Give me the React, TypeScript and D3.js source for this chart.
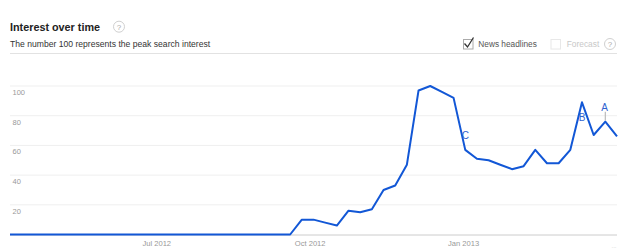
import React from "react";
import * as d3 from "d3";

const startDate = new Date(2012, 3, 4);
const values: number[] = [
  0, 0, 0, 0, 0, 0, 0, 0, 0, 0, 0, 0, 0, 0, 0, 0, 0, 0, 0, 0, 0, 0, 0, 0, 0,
  10, 10, 8, 6, 16, 15, 17, 30, 33, 47, 97, 100, 96, 92, 57, 51, 50, 47, 44, 46,
  57, 48, 48, 57, 89, 67, 76, 66,
];
const yTicks = [20, 40, 60, 80, 100];
const xTickDates = [new Date(2012, 6, 1), new Date(2012, 9, 1), new Date(2013, 0, 1)];
const xTickLabels = ["Jul 2012", "Oct 2012", "Jan 2013"];
const annotLetters = ["C", "B", "A"];
const annotWeeks = [39, 49, 51];

const FONT = "'Liberation Sans', Arial, sans-serif";

function HelpIcon({ x, y }: { x: number; y: number }) {
  return (
    <g>
      <circle cx={x} cy={y} r={5.5} fill="#fff" stroke="#d0d0d0" strokeWidth={1} />
      <text x={x} y={y + 3} textAnchor="middle" fontSize={8} fill="#aaa" fontFamily={FONT}>?</text>
    </g>
  );
}

export default function App() {
  const W = 625, H = 252;
  const dates = values.map((_, i) => d3.timeDay.offset(startDate, i * 7));
  const x = d3.scaleTime().domain([dates[0], dates[dates.length - 1]]).range([10, 617]);
  const y = d3.scaleLinear().domain([0, 100]).range([234.5, 86]);
  const line = d3.line<number>().x((_, i) => x(dates[i])).y((d) => y(d));
  const pt = (w: number) => [x(dates[w]), y(values[w])];
  const c = pt(annotWeeks[0]);
  const b = pt(annotWeeks[1]);
  const a = pt(annotWeeks[2]);

  return (
    <svg width={W} height={H} style={{ position: "absolute", left: 0, top: 0, background: "#fff" }} fontFamily={FONT}>
      <text x={10} y={30.5} fontSize={10.8} fontWeight="bold" fill="#222">Interest over time</text>
      <HelpIcon x={119} y={26.7} />
      <text x={10} y={47.3} fontSize={8.6} fill="#333">The number 100 represents the peak search interest</text>

      <rect x={463.5} y={39.5} width={9.5} height={9.5} fill="#fff" stroke="#aaa" strokeWidth={1} />
      <path d="M464.5,43.5 L467.5,47 L473.5,37.5" fill="none" stroke="#333" strokeWidth={1.3} />
      <text x={478.3} y={47.2} fontSize={8.3} fill="#555">News headlines</text>
      <rect x={551} y={39.5} width={9.5} height={9.5} fill="#fff" stroke="#e8e8e8" strokeWidth={1} />
      <text x={566.7} y={47.2} fontSize={8.4} fill="#c8c8c8">Forecast</text>
      <HelpIcon x={610} y={44} />
      <line x1={10} x2={617} y1={53.5} y2={53.5} stroke="#e2e2e2" strokeWidth={1} />

      {yTicks.map((t) => (
        <g key={t}>
          <line x1={10} x2={617} y1={y(t)} y2={y(t)} stroke="#efefef" strokeWidth={1} />
          <text x={12.5} y={y(t) + 9} fontSize={7.5} fill="#999">{t}</text>
        </g>
      ))}
      <line x1={10} x2={617} y1={y(0) + 0.5} y2={y(0) + 0.5} stroke="#ccc" strokeWidth={1} />

      {xTickDates.map((d, i) => (
        <text key={i} x={x(d)} y={246.3} fontSize={7.6} fill="#999" textAnchor="middle">{xTickLabels[i]}</text>
      ))}
      <text x={614} y={248} fontSize={6} fill="#ccc" textAnchor="middle">...</text>

      <path d={line(values) || ""} fill="none" stroke="#1257d6" strokeWidth={2} strokeLinejoin="round" />

      <text x={c[0]} y={c[1] - 10.5} fontSize={10} fill="#2f63d0" textAnchor="middle">{annotLetters[0]}</text>
      <text x={b[0]} y={b[1] + 19} fontSize={10} fill="#2f63d0" textAnchor="middle">{annotLetters[1]}</text>
      <line x1={a[0]} x2={a[0]} y1={a[1] - 1} y2={a[1] - 10} stroke="#bbb" strokeWidth={1.2} />
      <text x={a[0] - 0.7} y={a[1] - 11} fontSize={10} fill="#2f63d0" textAnchor="middle">{annotLetters[2]}</text>
    </svg>
  );
}
